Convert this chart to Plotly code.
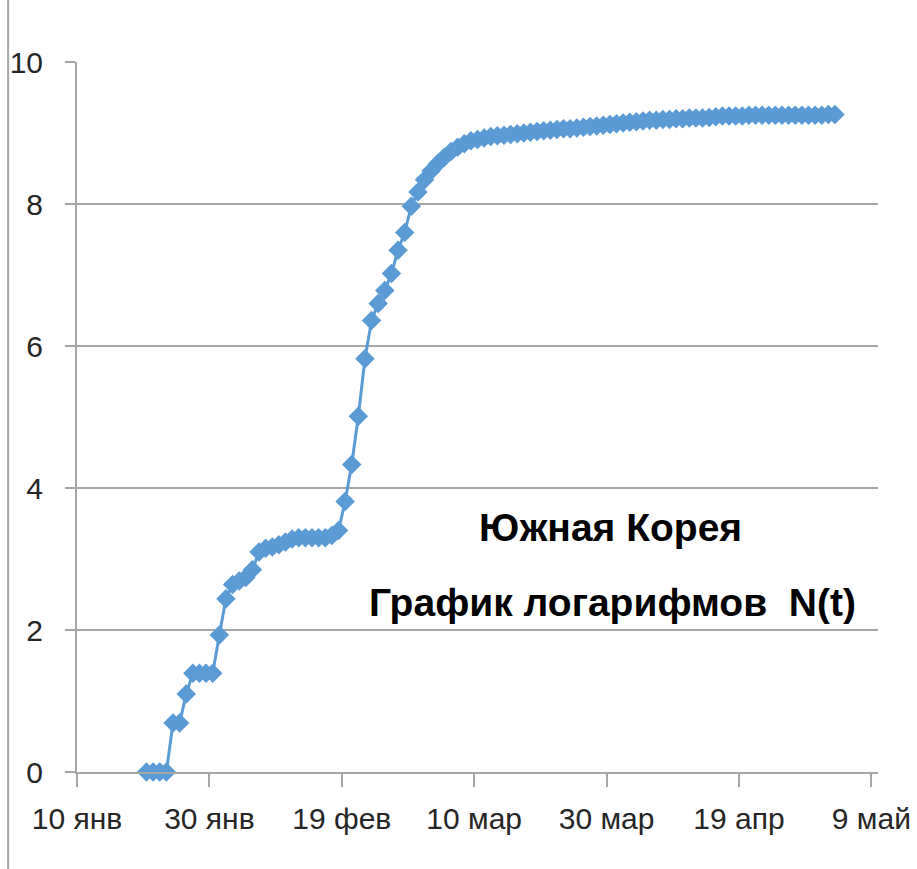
import pandas as pd
import plotly.graph_objects as go

# ---- data (natural log of cumulative cases, South Korea) ----
start_date = "2020-01-20"
end_date = "2020-05-03"
values_jan = [0, 0, 0, 0, 0.69, 0.69, 1.10, 1.39, 1.39, 1.39, 1.39, 1.93]
values_feb = [2.44, 2.64, 2.69, 2.74, 2.85, 3.10, 3.15, 3.17, 3.20, 3.24,
              3.28, 3.30, 3.30, 3.30, 3.30, 3.30, 3.33, 3.40, 3.81, 4.33,
              5.01, 5.82, 6.36, 6.60, 6.78, 7.02, 7.35, 7.60, 7.97]
values_mar = [8.17, 8.34, 8.47, 8.57, 8.66, 8.74, 8.80, 8.85, 8.89, 8.91,
              8.93, 8.95, 8.96, 8.97, 8.98, 8.99, 9.00, 9.01, 9.02, 9.03,
              9.04, 9.05, 9.06, 9.06, 9.07, 9.08, 9.09, 9.10, 9.11, 9.12, 9.13]
values_apr = [9.14, 9.15, 9.16, 9.17, 9.18, 9.18, 9.19, 9.19, 9.20, 9.20,
              9.21, 9.21, 9.21, 9.22, 9.23, 9.24, 9.24, 9.24, 9.24, 9.25,
              9.25, 9.25, 9.25, 9.25, 9.25, 9.25, 9.25, 9.25, 9.25, 9.25]
values_may = [9.25, 9.26, 9.26]

tick_dates = ["2020-01-10", "2020-01-30", "2020-02-19", "2020-03-10",
              "2020-03-30", "2020-04-19", "2020-05-09"]
tick_labels = ["10 янв", "30 янв", "19 фев", "10 мар", "30 мар", "19 апр", "9 май"]
y_ticks = [0, 2, 4, 6, 8, 10]

title_lines = ["Южная Корея", "График логарифмов  N(t)"]

values = values_jan + values_feb + values_mar + values_apr + values_may
# points sit in the middle of each day (date axis, between tick marks)
dates = pd.date_range(start_date, end_date, freq="D") + pd.Timedelta(hours=12)

BLUE = "#5B9BD5"
GRID = "#A6A6A6"
TICK_FONT = dict(family="Liberation Sans, Arial, sans-serif", size=30, color="#262626")

fig = go.Figure()
fig.add_trace(go.Scatter(
    x=dates, y=values, mode="lines+markers",
    line=dict(color=BLUE, width=3),
    marker=dict(symbol="diamond", size=15, color=BLUE, line=dict(width=0)),
    cliponaxis=False, showlegend=False, hoverinfo="x+y",
))

fig.update_layout(
    width=917, height=869,
    margin=dict(l=77, r=39, t=62, b=97),
    paper_bgcolor="white", plot_bgcolor="white",
    showlegend=False,
)
fig.update_xaxes(
    type="date", range=["2020-01-10", "2020-05-10"],
    tickmode="array", tickvals=tick_dates, ticktext=tick_labels,
    ticks="outside", ticklen=13, tickwidth=1.5, tickcolor=GRID,
    showline=True, linecolor=GRID, linewidth=2,
    showgrid=False, zeroline=False, tickfont=TICK_FONT,
    ticklabelstandoff=6, automargin=False, ticklabeloverflow="allow",
)
fig.update_yaxes(
    range=[0, 10], tickmode="array", tickvals=y_ticks,
    ticks="outside", ticklen=10, tickwidth=1.5, tickcolor=GRID,
    showline=True, linecolor=GRID, linewidth=2,
    showgrid=True, gridcolor=GRID, gridwidth=1.5, zeroline=False,
    tickfont=TICK_FONT, ticklabelstandoff=16, automargin=False,
)

for text, ypos, xpos in [(title_lines[0], 0.345, 0.666), (title_lines[1], 0.239, 0.669)]:
    fig.add_annotation(
        text=text, xref="paper", yref="paper", x=xpos, y=ypos,
        xanchor="center", yanchor="middle", showarrow=False,
        font=dict(family="Liberation Sans, Arial, sans-serif", size=39, color="black",
                  weight="bold"),
    )

# left border of the chart frame
fig.add_shape(type="line", xref="paper", yref="paper",
              x0=-0.086, x1=-0.086, y0=-0.14, y1=1.09,
              line=dict(color=GRID, width=2))

fig.write_html("out.html")
